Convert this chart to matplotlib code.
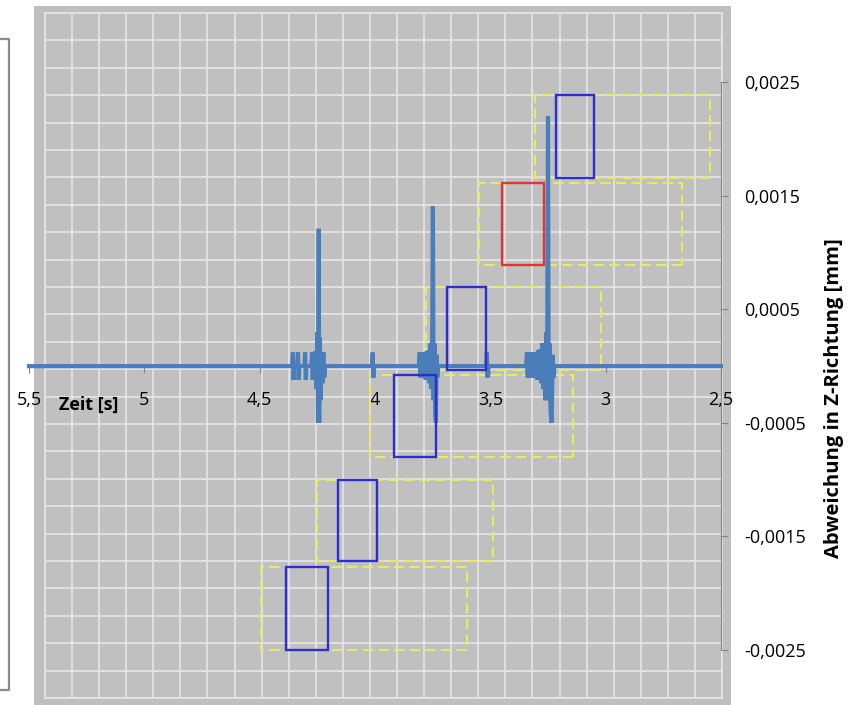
import matplotlib
matplotlib.use("Agg")
import matplotlib.pyplot as plt
from matplotlib.patches import Rectangle
from matplotlib.lines import Line2D

plt.rcParams['font.family'] = ['Open Sans', 'DejaVu Sans']

# x axis (time, reversed) and y axis ticks
x_ticks = [5.5, 5.0, 4.5, 4.0, 3.5, 3.0, 2.5]
x_labels = ["5,5", "5", "4,5", "4", "3,5", "3", "2,5"]
y_ticks = [0.0025, 0.0015, 0.0005, -0.0005, -0.0015, -0.0025]
y_labels = ["0,0025", "0,0015", "0,0005", "-0,0005", "-0,0015", "-0,0025"]

# measured deviation signal (time s, deviation mm)
sig_t = [5.500,
         4.360, 4.356, 4.353, 4.350,
         4.337, 4.334, 4.331, 4.328,
         4.306, 4.303, 4.300, 4.297,
         4.276, 4.273, 4.270, 4.267, 4.262, 4.258, 4.254, 4.250, 4.247,
         4.244, 4.242, 4.239, 4.236, 4.232, 4.228, 4.224, 4.220, 4.216,
         4.013, 4.010, 4.007, 4.004,
         3.810, 3.806, 3.803, 3.800, 3.794, 3.791, 3.786, 3.780, 3.776,
         3.772, 3.768, 3.764, 3.760, 3.756, 3.752, 3.749, 3.746, 3.742,
         3.739, 3.736, 3.733, 3.730, 3.726,
         3.518, 3.515, 3.512, 3.509,
         3.345, 3.341, 3.338, 3.334, 3.331, 3.327,
         3.318, 3.315, 3.312, 3.308, 3.304, 3.300, 3.296, 3.292, 3.288,
         3.284, 3.279, 3.275, 3.270, 3.266, 3.262, 3.258, 3.254, 3.250,
         3.247, 3.243, 3.239, 3.234, 3.230, 3.226, 3.222,
         2.500]
sig_z = [0.0,
         0.0, 0.00012, -0.00012, 0.0,
         0.0, 0.00012, -0.00012, 0.0,
         0.0, 0.00012, -0.00012, 0.0,
         0.0, 0.00012, -0.00012, 0.0001, -0.00012, 0.00013, -0.0002, 0.0003, -0.0005,
         0.00121, -0.0005, 0.00025, -0.0003, 0.00012, -0.00015, 0.00012, -0.0001, 0.0,
         0.0, 0.00012, -0.0001, 0.0,
         0.0, 0.00012, -0.0001, 0.0, 0.00012, -0.0001, 0.0001, -0.00012, 0.00013,
         -0.00012, 0.00014, -0.00015, 0.0002, -0.0002, 0.0003, 0.00141, -0.0003, 0.0002,
         -0.0004, -0.0005, 0.0001, -0.0001, 0.0,
         0.0, 0.00012, -0.0001, 0.0,
         0.0, 0.00012, -0.0001, 0.00012, -0.0001, 0.0,
         0.0, 0.00012, -0.0001, 0.00012, -0.0001, 0.00012, -0.00012, 0.00014, -0.00012,
         0.00015, -0.00015, 0.0002, -0.0002, 0.0002, -0.0003, 0.0003, -0.0002, 0.0022,
         -0.0003, 0.0002, -0.0004, -0.0005, 0.0001, -0.0001, 0.0,
         0.0]

# tolerance boxes (solid) : start time, end time, lower, upper
box_t0 = [3.215, 3.448, 3.688, 3.918, 4.160, 4.386]
box_t1 = [3.049, 3.266, 3.519, 3.736, 3.991, 4.202]
box_y0 = [0.00166, 0.00089, -0.00003, -0.00080, -0.00172, -0.00250]
box_y1 = [0.00239, 0.00161, 0.00070, -0.00008, -0.00100, -0.00177]
box_kind = ["blue", "red", "blue", "blue", "blue", "blue"]

# wider dashed windows, same heights as the boxes
win_t0 = [3.306, 3.549, 3.779, 4.022, 4.251, 4.494]
win_t1 = [2.548, 2.669, 3.020, 3.142, 3.489, 3.603]

colors = {"blue": "#2E2ECF", "red": "#E03535"}

W, H = 857, 705
fig = plt.figure(figsize=(W / 100, H / 100), dpi=100)
fig.patch.set_facecolor("white")

# gray chart area
fig.add_artist(Rectangle((34 / W, 0), 697 / W, 699 / H, transform=fig.transFigure,
                         facecolor="#BFBFBF", edgecolor="none", zorder=-5))

# left box edge (cut-off legend frame)
fig.add_artist(Line2D([0, 9 / W, 9 / W, 0], [1 - 39 / H, 1 - 39 / H, 1 - 690 / H, 1 - 690 / H],
                      color="#8C8C8C", lw=1.6, zorder=-5))

# background grid axes
bg = fig.add_axes([45 / W, 7 / H, 677 / W, 685 / H])
bg.set_zorder(-1)
bg.set_facecolor("#C0C0C0")
bg.set_xlim(0, 25)
bg.set_ylim(0, 25)
bg.set_xticks(range(26))
bg.set_yticks(range(26))
bg.grid(True, color="#E6E6E6", lw=1.2)
bg.tick_params(length=0, labelbottom=False, labelleft=False)
for s in bg.spines.values():
    s.set_color("#E6E6E6")
    s.set_linewidth(1.2)

# main data axes
ax = fig.add_axes([29 / W, 55 / H, 692 / W, 567.7 / H])
ax.patch.set_alpha(0)
ax.set_xlim(5.5, 2.5)
ax.set_ylim(-0.0025, 0.0025)

for t0, t1, y0, y1 in zip(win_t0, win_t1, box_y0, box_y1):
    ax.add_patch(Rectangle((t1, y0), t0 - t1, y1 - y0, fill=False, edgecolor="#EAEA5E",
                           lw=1.5, linestyle=(0, (5, 2.5)), zorder=2, clip_on=False))

ax.plot(sig_t, sig_z, color="#4A7EBB", lw=3.0, zorder=3, clip_on=False,
        solid_joinstyle="miter")

for t0, t1, y0, y1, k in zip(box_t0, box_t1, box_y0, box_y1, box_kind):
    ax.add_patch(Rectangle((t1, y0), t0 - t1, y1 - y0, fill=False, edgecolor=colors[k],
                           lw=1.7, zorder=4, clip_on=False))

ax.spines["left"].set_visible(False)
ax.spines["top"].set_visible(False)
ax.spines["right"].set_color("#868686")
ax.spines["bottom"].set_position(("data", 0))
ax.spines["bottom"].set_color("#868686")
ax.yaxis.tick_right()
ax.set_yticks(y_ticks)
ax.set_yticklabels(y_labels)
ax.set_xticks(x_ticks)
ax.set_xticklabels(x_labels)
ax.tick_params(axis="y", direction="out", length=5, color="#868686", pad=12, labelsize=13)
ax.tick_params(axis="x", direction="out", length=5, color="#868686", pad=13, labelsize=13)

fig.text(88.5 / W, 1 - 405 / H, "Zeit [s]", ha="center", va="center",
         fontsize=13, fontweight="bold")
fig.text(834 / W, 1 - 398 / H, "Abweichung in Z-Richtung [mm]", ha="center", va="center",
         rotation=90, fontsize=14.5, fontweight="bold")

fig.savefig("out.png", dpi=100)
